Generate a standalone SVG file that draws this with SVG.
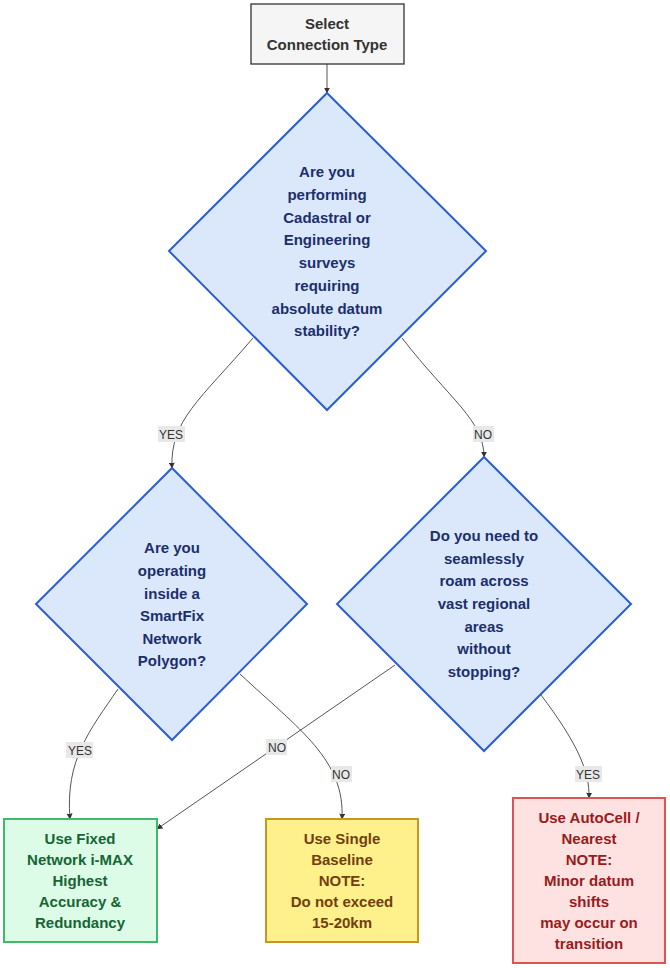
<svg xmlns="http://www.w3.org/2000/svg" width="670" height="968" viewBox="0 0 670 968">
<style>
text{font-family:"Liberation Sans",Arial,sans-serif;font-weight:bold;font-size:15px;text-anchor:middle}
.dia{fill:#dbe8fc;stroke:#2b5fcf;stroke-width:2}
.dt{fill:#1c2f6b}
.e{fill:none;stroke:#555;stroke-width:1;marker-end:url(#ah)}
.lb{fill:#e8e8e8}
.lt{font-weight:normal;font-size:12px;fill:#333}
</style>
<defs><marker id="ah" viewBox="0 0 10 10" refX="9" refY="5" markerWidth="6" markerHeight="6" orient="auto"><path d="M0,0L10,5L0,10z" fill="#333"/></marker></defs>
<g id="edges">
<path class="e" d="M327,64L327,93"/>
<path class="e" d="M253,338C200,400 170,420 172,468"/>
<path class="e" d="M402,338C450,400 484,420 484,457"/>
<path class="e" d="M118,689C90,730 65,760 70,819"/>
<path class="e" d="M240,674C300,730 345,760 342,819"/>
<path class="e" d="M395,665L157,829"/>
<path class="e" d="M541,695C575,740 590,770 589,798"/>
<rect class="lb" x="158" y="426" width="27" height="16"/><text class="lt" x="171" y="439">YES</text>
<rect class="lb" x="473" y="426" width="21" height="16"/><text class="lt" x="483" y="439">NO</text>
<rect class="lb" x="66" y="742" width="27" height="16"/><text class="lt" x="80" y="755">YES</text>
<rect class="lb" x="266" y="739" width="21" height="16"/><text class="lt" x="277" y="752">NO</text>
<rect class="lb" x="331" y="766" width="21" height="16"/><text class="lt" x="341" y="779">NO</text>
<rect class="lb" x="575" y="766" width="27" height="16"/><text class="lt" x="588" y="779">YES</text>
</g>
<g id="start"><rect x="251" y="4" width="153" height="60" fill="#f5f5f5" stroke="#333" stroke-width="1.3"/>
<text x="327" y="29" fill="#333">Select</text><text x="327" y="50" fill="#333">Connection Type</text></g>
<g id="q1"><polygon class="dia" points="327,93 486,251 327,410 169,251"/>
<text class="dt" x="327" y="177">Are you</text><text class="dt" x="327" y="200">performing</text><text class="dt" x="327" y="223">Cadastral or</text><text class="dt" x="327" y="245">Engineering</text><text class="dt" x="327" y="268">surveys</text><text class="dt" x="327" y="291">requiring</text><text class="dt" x="327" y="314">absolute datum</text><text class="dt" x="327" y="336">stability?</text></g>
<g id="q2"><polygon class="dia" points="172,468 307,604 172,740 36,604"/>
<text class="dt" x="172" y="553">Are you</text><text class="dt" x="172" y="576">operating</text><text class="dt" x="172" y="599">inside a</text><text class="dt" x="172" y="621">SmartFix</text><text class="dt" x="172" y="644">Network</text><text class="dt" x="172" y="666">Polygon?</text></g>
<g id="q3"><polygon class="dia" points="484,457 631,604 484,751 337,604"/>
<text class="dt" x="484" y="541">Do you need to</text><text class="dt" x="484" y="564">seamlessly</text><text class="dt" x="484" y="586">roam across</text><text class="dt" x="484" y="609">vast regional</text><text class="dt" x="484" y="632">areas</text><text class="dt" x="484" y="654">without</text><text class="dt" x="484" y="677">stopping?</text></g>
<g id="fixed" fill="#166534"><rect x="4" y="819" width="153" height="123" fill="#dcfce7" stroke="#3fba6a" stroke-width="2"/>
<text x="80" y="844">Use Fixed</text><text x="80" y="865">Network i-MAX</text><text x="80" y="886">Highest</text><text x="80" y="907">Accuracy &amp;</text><text x="80" y="928">Redundancy</text></g>
<g id="single" fill="#713f12"><rect x="266" y="819" width="152" height="123" fill="#fef08a" stroke="#c9971c" stroke-width="2"/>
<text x="342" y="844">Use Single</text><text x="342" y="865">Baseline</text><text x="342" y="886">NOTE:</text><text x="342" y="907">Do not exceed</text><text x="342" y="928">15-20km</text></g>
<g id="autocell" fill="#991b1b"><rect x="513" y="798" width="152" height="165" fill="#fee2e2" stroke="#dc5454" stroke-width="2"/>
<text x="589" y="823">Use AutoCell /</text><text x="589" y="844">Nearest</text><text x="589" y="865">NOTE:</text><text x="589" y="886">Minor datum</text><text x="589" y="907">shifts</text><text x="589" y="928">may occur on</text><text x="589" y="949">transition</text></g>
</svg>
